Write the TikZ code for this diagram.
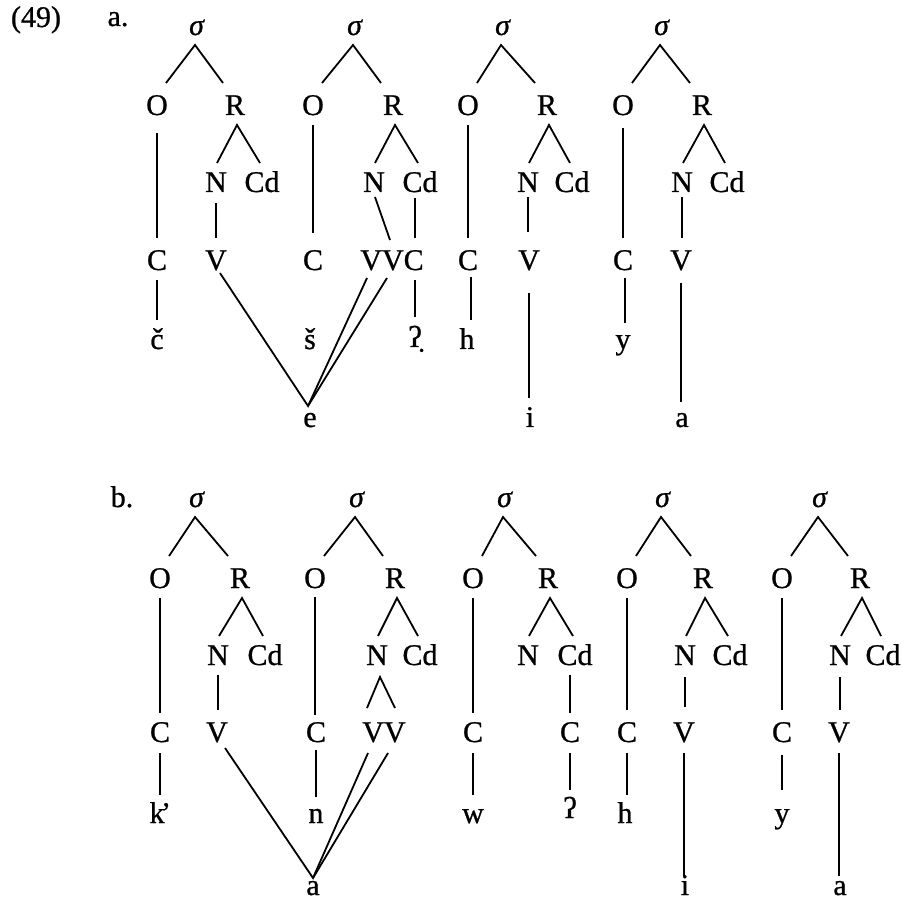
\documentclass[tikz,border=0pt]{standalone}
\usepackage{fontspec}
\setmainfont{Liberation Serif}[FakeBold=0.8]
\usetikzlibrary{calc}
\tikzset{
  lab/.style={inner sep=0pt, anchor=base, font=\fontsize{30}{36}\selectfont},
  lk/.style={line width=1.8pt, line join=miter, line cap=butt}
}
\newcommand\sg{\textit{σ}}
\newcommand\sigbr[3]{\draw[lk] ($(#2.base)+(9,-32)$) -- ($(#1.base)+(-2,10)$) -- ($(#3.base)+(-12,-32)$);}
\newcommand\rbr[3]{\draw[lk] ($(#2.base)+(1,-29)$) -- ($(#1.base)+(2,10)$) -- ($(#3.base)+(-2,-29)$);}
\newcommand\vln[5]{\draw[lk] ($(#1.base)+(#2,#3)$) -- ($(#1.base |- #4.base)+(#2,#5)$);}
\begin{document}
\begin{tikzpicture}[x=1pt,y=-1pt]
\useasboundingbox (0,0) rectangle (903,901);
\fill[white] (0,0) rectangle (903,901);
% ---------- (49) a. ----------
\node[lab] (n49) at (36,27) {(49)};
\node[lab] (la) at (118,26) {a.};
% a1
\node[lab] (a1s) at (197,35) {\sg};
\node[lab] (a1o) at (157,115) {O};
\node[lab] (a1r) at (235,115) {R};
\node[lab] (a1n) at (216,192) {N};
\node[lab] (a1cd) at (262,192) {Cd};
\node[lab] (a1c) at (157,270) {C};
\node[lab] (a1v) at (216,270) {V};
\node[lab] (a1l) at (157,349) {č};
% a2
\node[lab] (a2s) at (355,35) {\sg};
\node[lab] (a2o) at (313,115) {O};
\node[lab] (a2r) at (393,115) {R};
\node[lab] (a2n) at (374,192) {N};
\node[lab] (a2cd) at (420,192) {Cd};
\node[lab] (a2c) at (313,270) {C};
\node[lab] (a2vvc) at (392,270) {VVC};
\node[lab] (a2l) at (310,349) {š};
\node[lab] (a2g) at (415,347) {ʔ̣};
\node[lab] (ae) at (310,427) {e};
% a3
\node[lab] (a3s) at (503,35) {\sg};
\node[lab] (a3o) at (468,115) {O};
\node[lab] (a3r) at (547,115) {R};
\node[lab] (a3n) at (528,192) {N};
\node[lab] (a3cd) at (572,192) {Cd};
\node[lab] (a3c) at (468,270) {C};
\node[lab] (a3v) at (529,270) {V};
\node[lab] (a3h) at (467,349) {h};
\node[lab] (a3i) at (530,427) {i};
% a4
\node[lab] (a4s) at (662,35) {\sg};
\node[lab] (a4o) at (623,115) {O};
\node[lab] (a4r) at (702,115) {R};
\node[lab] (a4n) at (682,192) {N};
\node[lab] (a4cd) at (727,192) {Cd};
\node[lab] (a4c) at (623,270) {C};
\node[lab] (a4v) at (681,270) {V};
\node[lab] (a4y) at (623,349) {y};
\node[lab] (a4a) at (682,427) {a};
% ---------- b. ----------
\node[lab] (lb) at (122,507) {b.};
% b1
\node[lab] (b1s) at (197,507) {\sg};
\node[lab] (b1o) at (160,588) {O};
\node[lab] (b1r) at (240,588) {R};
\node[lab] (b1n) at (218,665) {N};
\node[lab] (b1cd) at (265,665) {Cd};
\node[lab] (b1c) at (160,742) {C};
\node[lab] (b1v) at (217,742) {V};
\node[lab] (b1k) at (161,823) {k\kern-0.12em’\kern0.05em};
\node[lab] (ba) at (313,895) {a};
% b2
\node[lab] (b2s) at (357,507) {\sg};
\node[lab] (b2o) at (315,588) {O};
\node[lab] (b2r) at (395,588) {R};
\node[lab] (b2n) at (377,665) {N};
\node[lab] (b2cd) at (420,665) {Cd};
\node[lab] (b2c) at (316,742) {C};
\node[lab] (b2vv) at (384,742) {VV};
\node[lab] (b2l) at (316,823) {n};
% b3
\node[lab] (b3s) at (505,507) {\sg};
\node[lab] (b3o) at (473,588) {O};
\node[lab] (b3r) at (548,588) {R};
\node[lab] (b3n) at (528,665) {N};
\node[lab] (b3cd) at (575,665) {Cd};
\node[lab] (b3c) at (473,742) {C};
\node[lab] (b3cc) at (570,742) {C};
\node[lab] (b3w) at (473,823) {w};
\node[lab] (b3g) at (570,818) {ʔ};
% b4
\node[lab] (b4s) at (663,507) {\sg};
\node[lab] (b4o) at (627,588) {O};
\node[lab] (b4r) at (703,588) {R};
\node[lab] (b4n) at (685,665) {N};
\node[lab] (b4cd) at (730,665) {Cd};
\node[lab] (b4c) at (627,742) {C};
\node[lab] (b4v) at (684,742) {V};
\node[lab] (b4h) at (625,823) {h};
\node[lab] (b4i) at (685,895) {i};
% b5
\node[lab] (b5s) at (820,507) {\sg};
\node[lab] (b5o) at (782,588) {O};
\node[lab] (b5r) at (860,588) {R};
\node[lab] (b5n) at (840,665) {N};
\node[lab] (b5cd) at (883,665) {Cd};
\node[lab] (b5c) at (782,742) {C};
\node[lab] (b5v) at (839,742) {V};
\node[lab] (b5y) at (782,823) {y};
\node[lab] (b5a) at (840,895) {a};
% ---------- connectors (a) ----------
\sigbr{a1s}{a1o}{a1r} \sigbr{a2s}{a2o}{a2r} \sigbr{a3s}{a3o}{a3r} \sigbr{a4s}{a4o}{a4r}
\rbr{a1r}{a1n}{a1cd} \rbr{a2r}{a2n}{a2cd} \rbr{a3r}{a3n}{a3cd} \rbr{a4r}{a4n}{a4cd}
\vln{a1o}{0}{18}{a1c}{-32}
\vln{a1n}{0}{11}{a1v}{-32}
\vln{a1c}{0}{10}{a1l}{-29}
\vln{a2o}{0}{10}{a2c}{-37}
\vln{a2cd}{-5}{6}{a2vvc}{-32}
\draw[lk] ($(a2n.base)+(1,5)$) -- ($(a2vvc.base)+(-2,-30)$);
\draw[lk] ($(a2vvc.base)+(23,10)$) -- ($(a2g.base)+(0,-30)$);
\draw[lk] ($(a1v.base)+(4,3)$) -- ($(ae.base)+(-2,-21)$) -- ($(a2vvc.base)+(-25,8)$);
\draw[lk] ($(ae.base)+(-2,-21)$) -- ($(a2vvc.base)+(-5,8)$);
\vln{a3o}{0}{10}{a3c}{-32}
\vln{a3n}{0}{5}{a3v}{-38}
\vln{a3c}{3}{7}{a3h}{-29}
\vln{a3v}{0}{23}{a3i}{-29}
\vln{a4o}{0}{13}{a4c}{-32}
\vln{a4n}{0}{5}{a4v}{-32}
\vln{a4c}{2}{8}{a4y}{-26}
\vln{a4v}{0}{13}{a4a}{-25}
% ---------- connectors (b) ----------
\sigbr{b1s}{b1o}{b1r} \sigbr{b2s}{b2o}{b2r} \sigbr{b3s}{b3o}{b3r} \sigbr{b4s}{b4o}{b4r} \sigbr{b5s}{b5o}{b5r}
\rbr{b1r}{b1n}{b1cd} \rbr{b2r}{b2n}{b2cd} \rbr{b3r}{b3n}{b3cd} \rbr{b4r}{b4n}{b4cd} \rbr{b5r}{b5n}{b5cd}
\vln{b1o}{0}{10}{b1c}{-29}
\vln{b1n}{0}{10}{b1v}{-32}
\vln{b1c}{0}{11}{b1k}{-28}
\draw[lk] ($(b1v.base)+(8,6)$) -- ($(ba.base)+(0,-17)$) -- ($(b2vv.base)+(-16,11)$);
\draw[lk] ($(ba.base)+(0,-17)$) -- ($(b2vv.base)+(4,11)$);
\vln{b2o}{0}{9}{b2c}{-27}
\draw[lk] ($(b2vv.base)+(-17,-34)$) -- ($(b2n.base)+(3,12)$) -- ($(b2vv.base)+(11,-34)$);
\vln{b2c}{0}{8}{b2l}{-26}
\vln{b3o}{0}{10}{b3c}{-29}
\vln{b3cc}{0}{-29}{b3cd}{10}
\vln{b3c}{0}{11}{b3w}{-28}
\vln{b3cc}{0}{11}{b3g}{-28}
\vln{b4o}{0}{10}{b4c}{-32}
\vln{b4n}{0}{12}{b4v}{-35}
\vln{b4c}{0}{11}{b4h}{-28}
\vln{b4v}{0}{11}{b4i}{-19}
\vln{b5o}{0}{10}{b5c}{-32}
\vln{b5n}{0}{12}{b5v}{-32}
\vln{b5c}{0}{13}{b5y}{-33}
\vln{b5v}{0}{11}{b5a}{-19}
\end{tikzpicture}
\end{document}
